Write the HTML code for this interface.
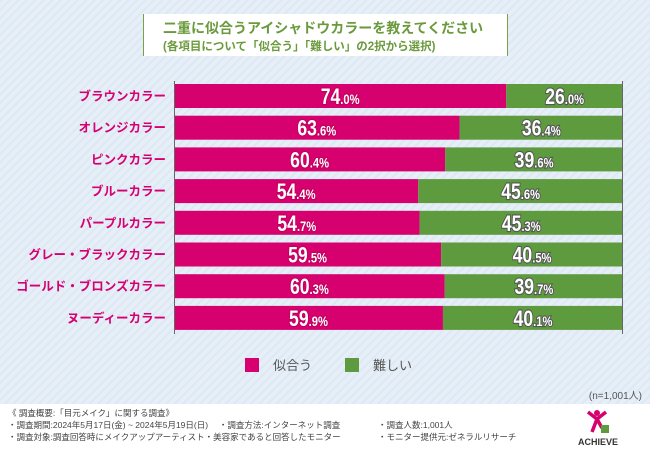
<!DOCTYPE html>
<html><head><meta charset="utf-8"><style>
body{margin:0;width:650px;height:450px;overflow:hidden;font-family:"Liberation Sans","Noto Sans CJK JP",sans-serif}
</style></head><body>
<svg width="650" height="450" viewBox="0 0 650 450" xmlns="http://www.w3.org/2000/svg">
<defs><pattern id="st" width="6" height="6" patternUnits="userSpaceOnUse" patternTransform="rotate(-45)"><rect width="6" height="6" fill="#e6eff8"/><rect width="6" height="2" fill="#dde8f3"/></pattern></defs>
<rect width="650" height="450" fill="url(#st)"/>
<g>
<rect x="143" y="14" width="365" height="42" fill="#fff"/>
<line x1="143.5" y1="14" x2="143.5" y2="56" stroke="#7aa04a"/>
<line x1="507.5" y1="14" x2="507.5" y2="56" stroke="#7aa04a"/>
<text x="163" y="33" font-size="14" font-weight="bold" fill="#6a9a3c">二重に似合うアイシャドウカラーを教えてください</text>
<text x="163" y="50" font-size="11.5" font-weight="bold" fill="#6a9a3c">(各項目について「似合う」「難しい」の2択から選択)</text>
</g>
<g id="plot"></g>
<g>
<rect x="245" y="358" width="14" height="14" fill="#d6006f"/>
<text x="273" y="370" font-size="13" fill="#555">似合う</text>
<rect x="345" y="358" width="14" height="14" fill="#5e9a3e"/>
<text x="373" y="370" font-size="13" fill="#555">難しい</text>
</g>
<text x="642" y="399" font-size="10" fill="#555" text-anchor="end">(n=1,001人)</text>
<rect x="0" y="404" width="650" height="46" fill="#fff"/>
<g font-size="8.5" fill="#444">
<text x="8" y="416">《 調査概要:「目元メイク」に関する調査》</text>
<text x="8" y="428">・調査期間:2024年5月17日(金) ~ 2024年5月19日(日)　 ・調査方法:インターネット調査</text>
<text x="378" y="428">・調査人数:1,001人</text>
<text x="8" y="440">・調査対象:調査回答時にメイクアップアーティスト・美容家であると回答したモニター</text>
<text x="378" y="440">・モニター提供元:ゼネラルリサーチ</text>
</g>
<g>
<circle cx="597" cy="413" r="3" fill="#d6006f"/>
<path d="M588 412 L597 419 L606 412 M597 419 L592 432 M597 419 L602 428" stroke="#d6006f" stroke-width="3.5" fill="none"/>
<rect x="601" y="425" width="8" height="8" fill="#5e9a3e"/>
<text x="598" y="445" font-size="9" font-weight="bold" fill="#333" text-anchor="middle">ACHIEVE</text>
</g>
</svg>
<script>
const categories=["ブラウンカラー","オレンジカラー","ピンクカラー","ブルーカラー","パープルカラー","グレー・ブラックカラー","ゴールド・ブロンズカラー","ヌーディーカラー"];
const niau=[74.0,63.6,60.4,54.4,54.7,59.5,60.3,59.9];
const muzukashii=[26.0,36.4,39.6,45.6,45.3,40.5,39.7,40.1];
const NS="http://www.w3.org/2000/svg";
const g=document.getElementById('plot');
const x0=174,x1=623,yTop=80,rowH=31.7,barH=24;
const xs=v=>x0+(x1-x0)*v/100;
const yc=i=>yTop+16+i*rowH;
function mk(t,a){const e=document.createElementNS(NS,t);for(const k in a)e.setAttribute(k,a[k]);g.appendChild(e);return e;}
function val(v,cx,cy,stroke){
  const s=v.toFixed(1).split('.');
  const t=mk('text',{x:cx,y:cy+8,'text-anchor':'middle','font-weight':'bold',fill:'#fff',stroke:stroke,'stroke-width':2.2,'paint-order':'stroke','font-family':'Liberation Sans, sans-serif',transform:`translate(${cx} 0) scale(0.8 1) translate(${-cx} 0)`});
  const a=document.createElementNS(NS,'tspan');a.setAttribute('font-size','22');a.textContent=s[0];t.appendChild(a);
  const b=document.createElementNS(NS,'tspan');b.setAttribute('font-size','14');b.textContent='.'+s[1]+'%';t.appendChild(b);
  return t;
}
categories.forEach((c,i)=>{
  const y=yc(i)-barH/2;
  const r1=mk('rect',{x:x0,y:y,width:xs(niau[i])-x0,height:barH,fill:'#d6006f'});
  
  
  const r2=mk('rect',{x:xs(niau[i]),y:y,width:xs(niau[i]+muzukashii[i])-xs(niau[i]),height:barH,fill:'#5e9a3e'});
  
  
  const l=mk('text',{x:166,y:yc(i)+4.5,'text-anchor':'end','font-size':12.5,'font-weight':'bold',fill:'#d6006f'});
  l.textContent=c;
  
  
  const v1=val(niau[i],(x0+xs(niau[i]))/2,yc(i),'#c0005f');
  
  
  const v2=val(muzukashii[i],(xs(niau[i])+xs(niau[i]+muzukashii[i]))/2,yc(i),'#555');
  
  
});
const ax=mk('line',{x1:x0+0.5,y1:81,x2:x0+0.5,y2:334,stroke:'#666'});


const ax2=mk('line',{x1:x1-0.5,y1:81,x2:x1-0.5,y2:334,stroke:'#666'});


</script>
</body></html>
